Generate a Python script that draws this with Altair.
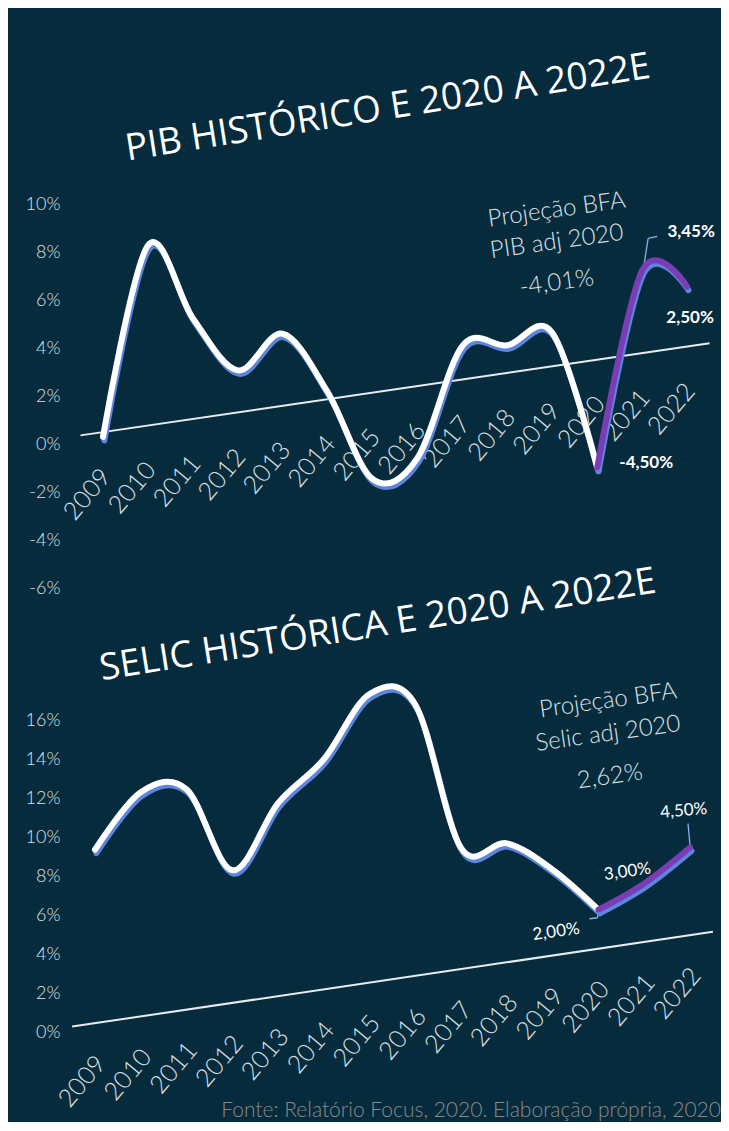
import altair as alt
import pandas as pd

# ---------------- data ----------------
years = list(range(2009, 2023))
pib = [-0.2, 7.5, 4.2, 1.75, 3.0, 0.3, -3.6, -3.0, 1.4, 1.15, 1.4, -4.5, 3.45, 2.5]
selic = [8.9, 11.5, 11.3, 6.8, 9.9, 11.8, 14.8, 13.9, 6.2, 6.1, 4.4, 2.0, 3.0, 4.5]
proj_start = 2020

pib_ticks = [-6, -4, -2, 0, 2, 4, 6, 8, 10]
selic_ticks = [0, 2, 4, 6, 8, 10, 12, 14, 16]

pib_title = "PIB HISTÓRICO E 2020 A 2022E"
selic_title = "SELIC HISTÓRICA E 2020 A 2022E"
pib_note = ["Projeção BFA", "PIB adj 2020", "-4,01%"]
selic_note = ["Projeção BFA", "Selic adj 2020", "2,62%"]
footer = "Fonte: Relatório Focus, 2020. Elaboração própria, 2020"

NAVY = "#062b3c"
BLUE = "#5a86de"
PURPLE = "#7b3cb6"
TXT = "#dde2e6"
LEAD = "#8fb0ea"


def fmt(v):
    return f"{v:.2f}".replace(".", ",") + "%"


def panel(values, slope, off, px_per_unit, xdom, ydom, ticks, title, title_xy,
          notes, notes_xy, lab_specs, lab_bold, ylab_shift, leaders):
    df = pd.DataFrame({"year": years, "v": values})
    df["label"] = [fmt(v) for v in values]
    df["ylabel"] = [str(y) for y in years]
    shear = f"{slope}*(datum.year-2009) + {off}"
    sh = 3.5 / px_per_unit
    height = (ydom[1] - ydom[0]) * px_per_unit

    xsc = alt.Scale(domain=xdom, nice=False, zero=False)
    ysc = alt.Scale(domain=ydom, nice=False, zero=False)
    yaxis = alt.Axis(values=ticks, labelExpr="datum.value + '%'", ticks=False,
                     domain=False, grid=False, labelPadding=10, minExtent=62,
                     maxExtent=62, labelFont="Lato", labelFontSize=18,
                     labelFontWeight=300, labelColor=TXT, labelFlush=False,
                     labelOverlap=False, title=None)

    base = alt.Chart(df).transform_calculate(
        yp=f"datum.v + {shear}", ys=f"datum.v + {shear} - {sh}",
        xs="datum.year + 0.03",
        yb=shear, yl=f"{shear} - {ylab_shift[1]}", xl=f"datum.year + {ylab_shift[0]}")

    hist = base.transform_filter(f"datum.year <= {proj_start}")
    proj = base.transform_filter(f"datum.year >= {proj_start}")

    def X(f="year"):
        return alt.X(f"{f}:Q", scale=xsc, axis=None)

    def Y(f):
        return alt.Y(f"{f}:Q", scale=ysc, axis=yaxis)

    # x-axis baseline (slanted), extended half a year each side
    baseline = base.transform_aggregate(lo="min(year)", hi="max(year)").transform_calculate(
        x1="datum.lo - 0.5", x2="datum.hi + 0.5",
        y1=f"{slope}*(datum.lo - 0.5 - 2009) + {off}",
        y2=f"{slope}*(datum.hi + 0.5 - 2009) + {off}",
    ).mark_rule(color="#e9ecef", strokeWidth=2).encode(
        x=X("x1"), x2="x2:Q", y=Y("y1"), y2="y2:Q")

    year_labels = base.mark_text(angle=310, align="right", baseline="middle",
                                 font="Lato", fontSize=25, fontWeight=300,
                                 color=TXT).encode(x=X("xl"), y=Y("yl"), text="ylabel:N")

    line_kw = dict(interpolate="cardinal", strokeCap="round", strokeJoin="round")
    hist_sh = hist.mark_line(color=BLUE, strokeWidth=6, **line_kw).encode(x=X("xs"), y=Y("ys"))
    proj_sh = proj.mark_line(color=BLUE, strokeWidth=6, **line_kw).encode(x=X("xs"), y=Y("ys"))
    hist_ln = hist.mark_line(color="white", strokeWidth=6, **line_kw).encode(x=X(), y=Y("yp"))
    proj_ln = proj.mark_line(color=PURPLE, strokeWidth=6, **line_kw).encode(x=X(), y=Y("yp"))

    layers = [baseline, year_labels]

    # thin leader lines from data points towards their labels
    for yr, segs in leaders:
        for (ax, ay, bx, by) in segs:
            layers.append(
                base.transform_filter(f"datum.year == {yr}").mark_rule(
                    color=LEAD, strokeWidth=1.3, xOffset=ax, yOffset=ay,
                    x2Offset=bx, y2Offset=by
                ).encode(x=X(), y=Y("yp"), x2="year:Q", y2="yp:Q"))

    layers += [hist_sh, proj_sh, hist_ln, proj_ln]

    for yr, dx, dy, ang in lab_specs:
        layers.append(
            base.transform_filter(f"datum.year == {yr}").mark_text(
                dx=dx, dy=dy, angle=ang, font="Lato", fontSize=17,
                fontWeight="bold" if lab_bold else 400, color="white"
            ).encode(x=X(), y=Y("yp"), text="label:N"))

    tdf = pd.DataFrame({"t": [title], "x": [title_xy[0]], "y": [title_xy[1]]})
    layers.append(alt.Chart(tdf).mark_text(angle=351, font="Open Sans", fontSize=37,
                                           color="white").encode(
        x=X("x"), y=Y("y"), text="t:N"))

    ndf = pd.DataFrame({"t": notes, "x": notes_xy[0], "y": notes_xy[1]})
    layers.append(alt.Chart(ndf).mark_text(angle=352, font="Lato", fontSize=24,
                                           fontWeight=300, color=TXT).encode(
        x=X("x"), y=Y("y"), text="t:N"))

    return alt.layer(*layers).properties(width=651, height=height)


top = panel(pib, 0.274, 0.5, 24.0, [2008.266, 2022.755], [-6.5, 18.17], pib_ticks,
            pib_title, (2015.34, 14.0), pib_note,
            ([2019.10, 2019.10, 2019.10], [9.75, 8.42, 6.71]),
            [(2021, 49, -38, 0), (2022, 3, 31, 0), (2020, 49, -5, 0)], True,
            (0.067, 1.67),
            [(2021, [(1, 0, 6, -32), (6, -32, 15, -34)])])

bottom = panel(selic, 0.347, 0.5, 19.5, [2008.454, 2022.677], [-3.2, 22.15], selic_ticks,
               selic_title, (2015.18, 20.9), selic_note,
               ([2020.21, 2020.21, 2020.25], [17.03, 15.33, 13.13]),
               [(2022, -3, -37, 355), (2021, -15, -14, 352), (2020, -45, 16, 352)], False,
               (0.13, 1.85),
               [(2022, [(0, -2, -2, -24)]), (2020, [(0, 2, -1, 8), (-1, 8, -9, 9)])])

chart = alt.vconcat(top, bottom, spacing=0, bounds="flush").properties(
    padding=0,
    title=alt.TitleParams(footer, orient="bottom", anchor="end", color="#8a8a8a",
                          fontSize=21, font="Lato", fontWeight=300, offset=-12),
).configure(background=NAVY).configure_view(stroke=None)

chart.save("out.html", embed_options={"renderer": "svg", "actions": False})
